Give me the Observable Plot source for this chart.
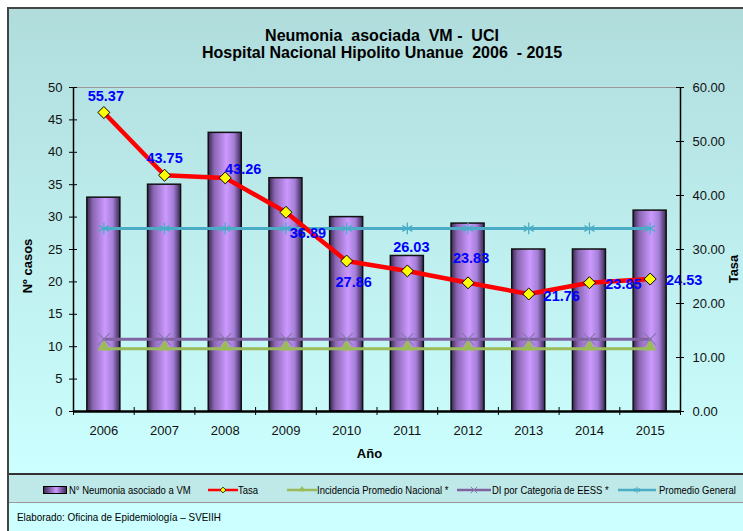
<!DOCTYPE html>
<html>
<head>
<meta charset="utf-8">
<script src="https://cdn.jsdelivr.net/npm/d3@7"></script>
<script src="https://cdn.jsdelivr.net/npm/@observablehq/plot@0.6"></script>
<style>
  body { margin:0; background:#fff; font-family:'Liberation Sans', Arial, sans-serif; }
  #wrap { position:relative; width:743px; height:531px; overflow:hidden; background:#fff; }
  .abs { position:absolute; }
  .rot { transform:translate(-50%,-50%) rotate(-90deg); white-space:nowrap; font-weight:bold; font-size:13px; color:#000; }
  .leg { position:absolute; top:0; height:29px; display:flex; align-items:center; }
  .legtxt { font-size:11px; color:#000; white-space:nowrap; display:inline-block; transform-origin:left center; transform:scaleX(0.86); }
</style>
</head>
<body>
<div id="wrap">
  <div class="abs" style="left:7px;top:7px;width:740px;height:530px;border-left:2px solid #444;border-top:2px solid #444;"></div>
  <div class="abs" style="left:9px;top:9px;width:740px;height:464px;background:linear-gradient(#b0dcdc,#ccffff);"></div>
  <div class="abs" style="left:9px;top:502px;width:740px;height:40px;background:#ccffff;"></div>
  <div class="abs" id="title" style="left:0;top:27px;width:764px;text-align:center;font-weight:bold;font-size:16px;line-height:17px;color:#000;">
    Neumonia&nbsp; asociada&nbsp; VM -&nbsp; UCI<br>Hospital Nacional Hipolito Unanue&nbsp; 2006&nbsp; - 2015
  </div>
  <div class="abs" id="plot" style="left:0;top:60px;"></div>
  <div class="abs rot" style="left:27px;top:266px;">Nº casos</div>
  <div class="abs rot" style="left:733px;top:269px;">Tasa</div>
  <div class="abs" style="left:369.5px;top:453px;transform:translate(-50%,-50%);font-weight:bold;font-size:13px;">Año</div>
  <div class="abs" id="legend" style="left:9px;top:473px;width:740px;height:27px;border-top:2px solid #333;border-bottom:1px solid #999;background:#bfe8e8;"></div>
  <div class="abs" style="left:17px;top:516px;transform:translateY(-50%);"><span class="legtxt" style="font-size:11.5px;">Elaborado: Oficina de Epidemiología – SVEIIH</span></div>
</div>
<script>
const years = [2006, 2007, 2008, 2009, 2010, 2011, 2012, 2013, 2014, 2015];
const casos = [33, 35, 43, 36, 30, 24, 29, 25, 25, 31];
const tasa = [55.37, 43.75, 43.26, 36.89, 27.86, 26.03, 23.83, 21.76, 23.85, 24.53];
const incidenciaNacional = [11.6, 11.6, 11.6, 11.6, 11.6, 11.6, 11.6, 11.6, 11.6, 11.6];
const diCategoria = [13.4, 13.4, 13.4, 13.4, 13.4, 13.4, 13.4, 13.4, 13.4, 13.4];
const promedioGeneral = [33.9, 33.9, 33.9, 33.9, 33.9, 33.9, 33.9, 33.9, 33.9, 33.9];
const casosTicks = [0, 5, 10, 15, 20, 25, 30, 35, 40, 45, 50];
const tasaTicks = [0, 10, 20, 30, 40, 50, 60];
const seriesNames = ["N° Neumonia asociado a VM", "Tasa", "Incidencia Promedio Nacional *", "DI por Categoria de EESS *", "Promedio General"];

// label placement (layout, px offsets from each Tasa point)
const labelOffsets = [[2,-16],[0,-17],[18,-9],[22,21],[7,21],[4,-24],[3,-24],[33,2],[34,2],[34,1]];

const K = 50 / 60; // tasa -> casos axis
const rows = years.map((year, i) => ({
  year, casos: casos[i], tasa: tasa[i],
  inc: incidenciaNacional[i], di: diCategoria[i], pg: promedioGeneral[i]
}));
const xBounds = [years[0] - 0.5, ...years.map(y => y + 0.5)];
const W = 743, H = 410, ML = 73, MR = 63, MT = 27, MB = 59;
const FW = W - ML - MR, FH = H - MT - MB;

const labelMarks = rows.map((r, i) => Plot.text([r], {
  x: "year", y: d => d.tasa * K, text: d => d.tasa.toFixed(2),
  dx: labelOffsets[i][0], dy: labelOffsets[i][1],
  fill: "#0000ff", fontWeight: "bold", fontSize: 14.5
}));

const plot = Plot.plot({
  width: W, height: H,
  marginTop: MT, marginBottom: MB, marginLeft: ML, marginRight: MR,
  style: {background: "transparent", fontFamily: "'Liberation Sans', Arial, sans-serif", fontSize: "13px", color: "#111", overflow: "visible"},
  x: {type: "linear", domain: [years[0] - 0.5, years[years.length - 1] + 0.5], label: null},
  y: {domain: [0, 50], label: null},
  marks: [
    Plot.ruleY([50], {stroke: "#9a9a9a", strokeWidth: 1}),
    Plot.rectY(rows, {x1: d => d.year - 0.272, x2: d => d.year + 0.272, y1: 0, y2: "casos", fill: "url(#barGrad)", stroke: "#111", strokeWidth: 1.5}),
    Plot.lineY(rows, {x: "year", y: d => d.inc * K, stroke: "#9bbb59", strokeWidth: 3}),
    Plot.dot(rows, {x: "year", y: d => d.inc * K, symbol: "triangle2", r: 6, fill: "#9bbb59", dy: -2}),
    Plot.lineY(rows, {x: "year", y: d => d.di * K, stroke: "#8064a2", strokeWidth: 3}),
    Plot.dot(rows, {x: "year", y: d => d.di * K, symbol: "times", r: 5.5, stroke: "#8a78b0", strokeWidth: 1.3}),
    Plot.lineY(rows, {x: "year", y: d => d.pg * K, stroke: "#4bacc6", strokeWidth: 3}),
    Plot.dot(rows, {x: "year", y: d => d.pg * K, symbol: "asterisk", r: 5.5, stroke: "#4bacc6", strokeWidth: 1.3}),
    Plot.lineY(rows, {x: "year", y: d => d.tasa * K, stroke: "#ff0000", strokeWidth: 4.5, strokeLinejoin: "round", curve: "linear"}),
    Plot.dot(rows, {x: "year", y: d => d.tasa * K, symbol: "diamond2", r: 5.4, fill: "#ffff00", stroke: "#000", strokeWidth: 1}),
    ...labelMarks,
    Plot.ruleX([xBounds[0]], {stroke: "#000", strokeWidth: 1.5}),
    Plot.ruleX([xBounds[xBounds.length - 1]], {stroke: "#000", strokeWidth: 1.5}),
    Plot.ruleY([0], {stroke: "#000", strokeWidth: 2.5}),
    Plot.tickY(casosTicks, {y: d => d, stroke: "#000", insetRight: FW - 8, dx: -4}),
    Plot.tickY(tasaTicks, {y: d => d * K, stroke: "#000", insetLeft: FW - 8, dx: 4}),
    Plot.tickX(xBounds, {x: d => d, stroke: "#000", insetTop: FH - 8, dy: 4}),
    Plot.axisY(casosTicks, {anchor: "left", tickSize: 0, tickPadding: 11, label: null}),
    Plot.axisY(tasaTicks.map(t => t * K), {anchor: "right", tickSize: 0, tickPadding: 12, tickFormat: d => (d / K).toFixed(2), label: null}),
    Plot.axisX(years, {anchor: "bottom", tickSize: 0, tickPadding: 14, tickFormat: d => String(d), label: null})
  ]
});

d3.select(plot).insert("defs", ":first-child").html(
  `<linearGradient id="barGrad" x1="0" x2="1" y1="0" y2="0">
     <stop offset="0" stop-color="#3a2652"/>
     <stop offset="0.18" stop-color="#8a66b2"/>
     <stop offset="0.55" stop-color="#cc99ff"/>
     <stop offset="0.78" stop-color="#a47fd6"/>
     <stop offset="1" stop-color="#3a2652"/>
   </linearGradient>`);
document.getElementById("plot").appendChild(plot);

// Legend
const legend = document.getElementById("legend");
const sym = (type, r) => d3.symbol(d3[type], Math.PI * r * r)();
const items = [
  {x: 34, label: 69, swatch: `<svg width="24" height="10"><defs><linearGradient id="lg" x1="0" x2="1"><stop offset="0" stop-color="#3a2652"/><stop offset="0.55" stop-color="#cc99ff"/><stop offset="1" stop-color="#3a2652"/></linearGradient></defs><rect x="0.5" y="1.5" width="23" height="7" fill="url(#lg)" stroke="#000"/></svg>`},
  {x: 199, label: 238, swatch: `<svg width="30" height="10"><line x1="0" x2="30" y1="5" y2="5" stroke="#ff0000" stroke-width="2.5"/><path transform="translate(15,5)" d="${sym('symbolDiamond2', 2.6)}" fill="#ffff00" stroke="#000" stroke-width="0.8"/></svg>`},
  {x: 278, label: 317, swatch: `<svg width="30" height="10"><line x1="0" x2="30" y1="5" y2="5" stroke="#9bbb59" stroke-width="2.5"/><path transform="translate(15,4.5)" d="${sym('symbolTriangle2', 3)}" fill="#9bbb59"/></svg>`},
  {x: 448, label: 492, swatch: `<svg width="34" height="10"><line x1="0" x2="34" y1="5" y2="5" stroke="#8064a2" stroke-width="2.5"/><path transform="translate(17,5)" d="${sym('symbolTimes', 3)}" fill="none" stroke="#8a78b0" stroke-width="1"/></svg>`},
  {x: 609, label: 659, swatch: `<svg width="38" height="10"><line x1="0" x2="38" y1="5" y2="5" stroke="#4bacc6" stroke-width="2.5"/><path transform="translate(19,5)" d="${sym('symbolAsterisk', 3)}" fill="none" stroke="#4bacc6" stroke-width="1"/></svg>`}
];
items.forEach((it, i) => {
  const s = document.createElement("div");
  s.className = "leg";
  s.style.left = it.x + "px";
  s.innerHTML = it.swatch;
  legend.appendChild(s);
  const t = document.createElement("div");
  t.className = "leg";
  t.style.left = (it.label - 9) + "px";
  t.innerHTML = `<span class="legtxt">${seriesNames[i]}</span>`;
  legend.appendChild(t);
});
</script>
</body>
</html>
